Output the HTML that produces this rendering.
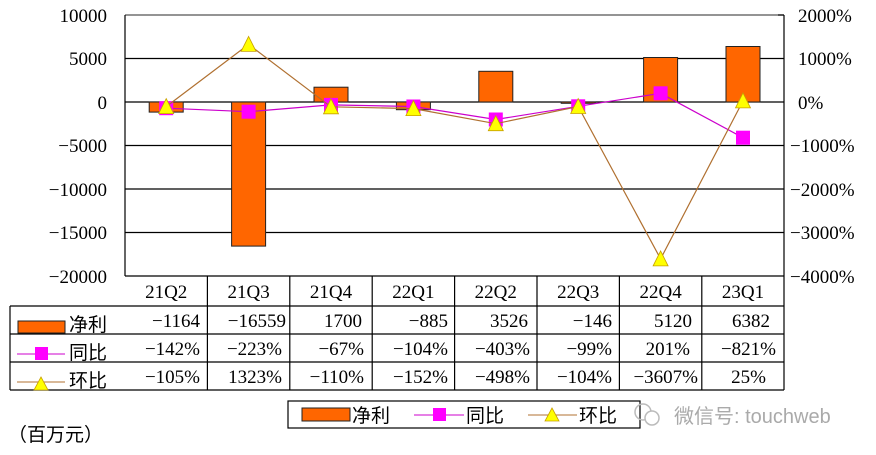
<!DOCTYPE html>
<html><head><meta charset="utf-8"><style>
body{margin:0;background:#fff;}
svg{display:block;font-family:"Liberation Serif","Noto Serif CJK SC",serif;}
</style></head><body>
<svg width="876" height="455" viewBox="0 0 876 455" xmlns="http://www.w3.org/2000/svg">
<rect width="876" height="455" fill="#fff"/>
<g stroke="#000" stroke-width="1.2">
<line x1="125" y1="15" x2="784" y2="15" stroke="#555"/>
<line x1="125" y1="58.5" x2="784" y2="58.5"/>
<line x1="125" y1="102" x2="784" y2="102"/>
<line x1="125" y1="145.5" x2="784" y2="145.5"/>
<line x1="125" y1="189" x2="784" y2="189"/>
<line x1="125" y1="232.5" x2="784" y2="232.5"/>
<line x1="125" y1="15" x2="125" y2="276"/>
<line x1="784" y1="15" x2="784" y2="390"/>
<line x1="778" y1="15" x2="784" y2="15"/>
</g>
<g fill="#FF6600" stroke="#222" stroke-width="1">
<rect x="149.2" y="102" width="34" height="10.1"/>
<rect x="231.6" y="102" width="34" height="144.1"/>
<rect x="314" y="87.2" width="34" height="14.8"/>
<rect x="396.4" y="102" width="34" height="7.7"/>
<rect x="478.8" y="71.3" width="34" height="30.7"/>
<rect x="561.2" y="102" width="34" height="1.3"/>
<rect x="643.6" y="57.5" width="34" height="44.5"/>
<rect x="726" y="46.5" width="34" height="55.5"/>
</g>
<polyline fill="none" stroke="#CC00CC" stroke-width="1.2" points="166.2,108.2 248.6,111.7 331,104.9 413.4,106.5 495.8,119.5 578.2,106.3 660.6,93.3 743,137.7"/>
<g fill="#FF00FF">
<rect x="159.2" y="101.2" width="14" height="14"/><rect x="241.6" y="104.7" width="14" height="14"/>
<rect x="324" y="97.9" width="14" height="14"/><rect x="406.4" y="99.5" width="14" height="14"/>
<rect x="488.8" y="112.5" width="14" height="14"/><rect x="571.2" y="99.3" width="14" height="14"/>
<rect x="653.6" y="86.3" width="14" height="14"/><rect x="736" y="130.7" width="14" height="14"/>
</g>
<polyline fill="none" stroke="#B07030" stroke-width="1.2" points="166.2,106.6 248.6,44.4 331,106.8 413.4,108.6 495.8,123.7 578.2,106.5 660.6,258.9 743,100.9"/>
<g fill="#FFFF00" stroke="#C8A000" stroke-width="0.8">
<polygon points="166.2,98.6 173.7,113.6 158.7,113.6"/><polygon points="248.6,36.4 256.1,51.4 241.1,51.4"/>
<polygon points="331,98.8 338.5,113.8 323.5,113.8"/><polygon points="413.4,100.6 420.9,115.6 405.9,115.6"/>
<polygon points="495.8,115.7 503.3,130.7 488.3,130.7"/><polygon points="578.2,98.5 585.7,113.5 570.7,113.5"/>
<polygon points="660.6,250.9 668.1,265.9 653.1,265.9"/><polygon points="743,92.9 750.5,107.9 735.5,107.9"/>
</g>
<g font-size="19" text-anchor="end" fill="#000">
<text x="107" y="22">10000</text><text x="107" y="65">5000</text><text x="107" y="109">0</text>
<text x="107" y="152">−5000</text><text x="107" y="196">−10000</text><text x="107" y="239">−15000</text><text x="107" y="283">−20000</text>
</g>
<g font-size="19" fill="#000">
<text x="798" y="22">2000%</text><text x="798" y="65">1000%</text><text x="798" y="109">0%</text>
<text x="790" y="152">−1000%</text><text x="790" y="196">−2000%</text><text x="790" y="239">−3000%</text><text x="790" y="283">−4000%</text>
</g>
<g stroke="#000" stroke-width="1.2" fill="none">
<line x1="125" y1="276" x2="784" y2="276"/>
<line x1="10" y1="306" x2="784" y2="306"/>
<line x1="10" y1="334" x2="784" y2="334"/>
<line x1="10" y1="362" x2="784" y2="362"/>
<line x1="10" y1="390" x2="784" y2="390"/>
<line x1="10" y1="306" x2="10" y2="390"/>
<line x1="207.4" y1="276" x2="207.4" y2="390"/><line x1="289.8" y1="276" x2="289.8" y2="390"/>
<line x1="372.2" y1="276" x2="372.2" y2="390"/><line x1="454.6" y1="276" x2="454.6" y2="390"/>
<line x1="537" y1="276" x2="537" y2="390"/><line x1="619.4" y1="276" x2="619.4" y2="390"/>
<line x1="701.8" y1="276" x2="701.8" y2="390"/>
</g>
<g font-size="19" text-anchor="middle" fill="#000">
<text x="166.2" y="298">21Q2</text><text x="248.6" y="298">21Q3</text><text x="331" y="298">21Q4</text><text x="413.4" y="298">22Q1</text>
<text x="495.8" y="298">22Q2</text><text x="578.2" y="298">22Q3</text><text x="660.6" y="298">22Q4</text><text x="743" y="298">23Q1</text>
</g>
<g font-size="19" text-anchor="end" fill="#000">
<text x="200" y="327">−1164</text><text x="286" y="327">−16559</text><text x="362" y="327">1700</text><text x="448" y="327">−885</text>
<text x="528" y="327">3526</text><text x="612" y="327">−146</text><text x="692" y="327">5120</text><text x="770" y="327">6382</text>
<text x="200" y="355">−142%</text><text x="282" y="355">−223%</text><text x="364" y="355">−67%</text><text x="448" y="355">−104%</text>
<text x="530" y="355">−403%</text><text x="612" y="355">−99%</text><text x="690" y="355">201%</text><text x="776" y="355">−821%</text>
<text x="200" y="383">−105%</text><text x="282" y="383">1323%</text><text x="364" y="383">−110%</text><text x="448" y="383">−152%</text>
<text x="530" y="383">−498%</text><text x="612" y="383">−104%</text><text x="698" y="383">−3607%</text><text x="766" y="383">25%</text>
</g>
<rect x="18" y="321" width="47" height="12" fill="#FF6600" stroke="#222"/>
<line x1="17" y1="354" x2="65" y2="354" stroke="#CC00CC"/>
<rect x="35" y="347" width="13" height="13" fill="#FF00FF"/>
<line x1="17" y1="382" x2="65" y2="382" stroke="#B07030"/>
<polygon points="41,377 48,390 34,390" fill="#FFFF00" stroke="#C8A000" stroke-width="0.8"/>
<g font-size="19" fill="#000" font-family="Noto Sans CJK SC,sans-serif">
<text x="69" y="331">净利</text><text x="69" y="359">同比</text><text x="69" y="387">环比</text>
</g>
<rect x="288" y="401" width="352" height="27" fill="#fff" stroke="#000" stroke-width="1.2"/>
<rect x="302" y="408" width="48" height="13" fill="#FF6600" stroke="#222"/>
<line x1="414" y1="415" x2="464" y2="415" stroke="#CC00CC"/>
<rect x="433" y="408" width="13" height="13" fill="#FF00FF"/>
<line x1="528" y1="415" x2="577" y2="415" stroke="#B07030"/>
<polygon points="552,408 559,421 545,421" fill="#FFFF00" stroke="#C8A000" stroke-width="0.8"/>
<g font-size="19" fill="#000" font-family="Noto Sans CJK SC,sans-serif">
<text x="352" y="422">净利</text><text x="466" y="422">同比</text><text x="579" y="422">环比</text>
</g>
<text x="8" y="441" font-size="19" font-family="Noto Sans CJK SC,sans-serif" fill="#000">（百万元）</text>
<circle cx="643" cy="412" r="8" fill="none" stroke="#bbb" stroke-width="1.5"/>
<circle cx="652" cy="418" r="7" fill="#fff" stroke="#bbb" stroke-width="1.5"/>
<text x="674" y="423" font-size="20" fill="#aaa" font-family="Liberation Sans,Noto Sans CJK SC,sans-serif">微信号: touchweb</text>
</svg>
</body></html>
